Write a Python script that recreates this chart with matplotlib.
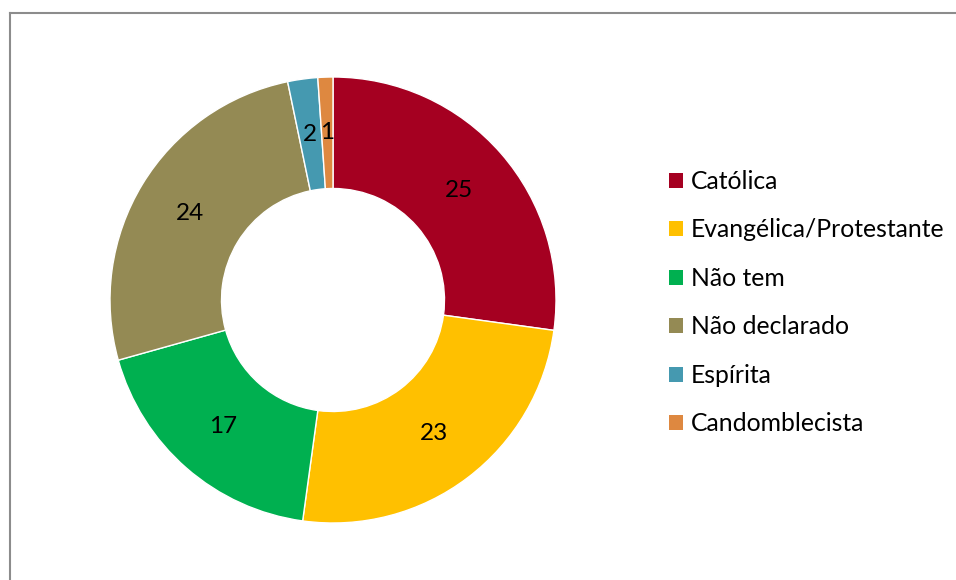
import matplotlib
matplotlib.use("Agg")
import matplotlib.pyplot as plt
from matplotlib.patches import Patch
from matplotlib.lines import Line2D

categories = ["Católica", "Evangélica/Protestante", "Não tem", "Não declarado", "Espírita", "Candomblecista"]
values = [25, 23, 17, 24, 2, 1]
colors = ["#A50021", "#FFC000", "#00B050", "#948A54", "#4599B0", "#DE8840"]

plt.rcParams['font.family'] = ['Lato', 'DejaVu Sans']

W, H = 956, 580
fig = plt.figure(figsize=(W / 100, H / 100), dpi=100)

# border (left and top visible)
fig.add_artist(Line2D([9.5 / W, 9.5 / W], [0, 1 - 12.5 / H], transform=fig.transFigure, color="#8C8C8C", lw=1.5))
fig.add_artist(Line2D([9.5 / W, 1], [1 - 12.5 / H, 1 - 12.5 / H], transform=fig.transFigure, color="#8C8C8C", lw=1.5))

cx, cy, r = 333, 300, 223
ax = fig.add_axes([(cx - r) / W, (H - cy - r) / H, 2 * r / W, 2 * r / H])
wedges, texts = ax.pie(values, colors=colors, startangle=90, counterclock=False, radius=1,
                       wedgeprops=dict(width=0.5, edgecolor="white", linewidth=1),
                       labels=[str(v) for v in values], labeldistance=0.75,
                       textprops=dict(fontsize=17.5, color="black", ha="center", va="center"))
for t in texts:
    t.set_horizontalalignment("center")
ax.set_xlim(-1, 1)
ax.set_ylim(-1, 1)
ax.set_aspect("equal")
ax.axis("off")

handles = [Patch(facecolor=c, edgecolor="none") for c in colors]
fig.legend(handles, categories, loc="upper left", bbox_to_anchor=(669 / W, 1 - 170 / H),
           frameon=False, fontsize=17.8, handlelength=0.57, handleheight=0.57,
           handletextpad=0.3, labelspacing=1.03, borderpad=0, borderaxespad=0)

fig.savefig("out.png", dpi=100)
